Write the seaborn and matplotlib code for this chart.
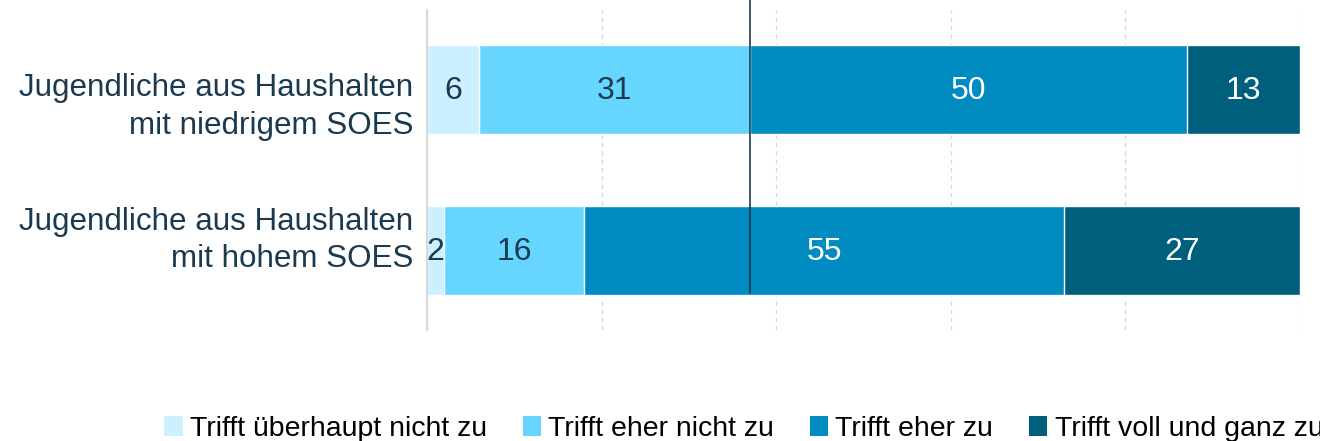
import seaborn as sns
import pandas as pd
import numpy as np
import matplotlib.pyplot as plt
from matplotlib.patches import Patch
from matplotlib.transforms import blended_transform_factory

# Daten
gruppen = ["Jugendliche aus Haushalten\nmit niedrigem SOES",
           "Jugendliche aus Haushalten\nmit hohem SOES"]
kategorien = ["Trifft überhaupt nicht zu", "Trifft eher nicht zu",
              "Trifft eher zu", "Trifft voll und ganz zu"]
ueberhaupt_nicht = [6, 2]
eher_nicht = [31, 16]
eher_zu = [50, 55]
voll_und_ganz = [13, 27]
trennlinie = 37

farben = ["#CCF0FF", "#66D6FF", "#008CC0", "#005F7D"]
textfarben = ["#1B3A50", "#1B3A50", "white", "white"]
dunkel = "#1B3A50"
# Verschiebung der Gruppenbeschriftungen (wie im Original leicht versetzt)
label_versatz = [0.11, -0.065]

sns.set_style("white")
plt.rcParams["font.family"] = ["Liberation Sans", "DejaVu Sans"]

werte = np.array([ueberhaupt_nicht, eher_nicht, eher_zu, voll_und_ganz])
kumuliert = werte.cumsum(axis=0)

fig = plt.figure(figsize=(13.2, 4.41), dpi=100)
ax = fig.add_axes([427 / 1320, 111 / 441, 873 / 1320, 320 / 441])

# Gestapelte Balken: von hinten (Summe) nach vorne zeichnen
for i in reversed(range(len(kategorien))):
    df = pd.DataFrame({"gruppe": gruppen, "wert": kumuliert[i]})
    sns.barplot(data=df, x="wert", y="gruppe", orient="h", color=farben[i],
                width=0.55, saturation=1, ax=ax, zorder=2)

# Werte beschriften
for i in range(len(kategorien)):
    for j in range(len(gruppen)):
        start = kumuliert[i][j] - werte[i][j]
        ax.text(start + werte[i][j] / 2, j + 0.01, str(werte[i][j]), ha="center",
                va="center", fontsize=23, color=textfarben[i], zorder=4)

ax.set_xlim(0, 100)
ax.set_ylim(1.49, -0.49)
ax.set_xticks(np.arange(0, 101, 20))
ax.set_xticklabels([])
ax.set_yticklabels([])
ax.set_xlabel("")
ax.set_ylabel("")
ax.tick_params(axis="both", length=0)

# Gruppenbeschriftungen
trans = blended_transform_factory(ax.transAxes, ax.transData)
for j, g in enumerate(gruppen):
    ax.text(-0.016, j + label_versatz[j], g, transform=trans, ha="right",
            va="center", multialignment="right", fontsize=22.6, color=dunkel,
            linespacing=1.32, clip_on=False)

ax.xaxis.grid(True, linestyle=(0, (3, 3)), color="#D9D9D9", linewidth=1, zorder=0)
ax.set_axisbelow(True)
for s in ["top", "right", "bottom"]:
    ax.spines[s].set_visible(False)
ax.spines["left"].set_color("#D9D9D9")
ax.spines["left"].set_linewidth(1.5)

# Vertikale Trennlinie
ax.plot([trennlinie, trennlinie], [1.03, 0.115], color=dunkel, linewidth=1.2,
        transform=ax.get_xaxis_transform(), clip_on=False, zorder=5)

# Legende
handles = [Patch(facecolor=f, edgecolor="none") for f in farben]
fig.legend(handles, kategorien, loc="center left", bbox_to_anchor=(153 / 1320, 12 / 441),
           ncol=4, frameon=False, fontsize=20.5, handlelength=0.65, handleheight=0.65,
           handletextpad=0.25, columnspacing=1.25, borderaxespad=0, labelcolor="black")

fig.savefig("out.png", dpi=100)
